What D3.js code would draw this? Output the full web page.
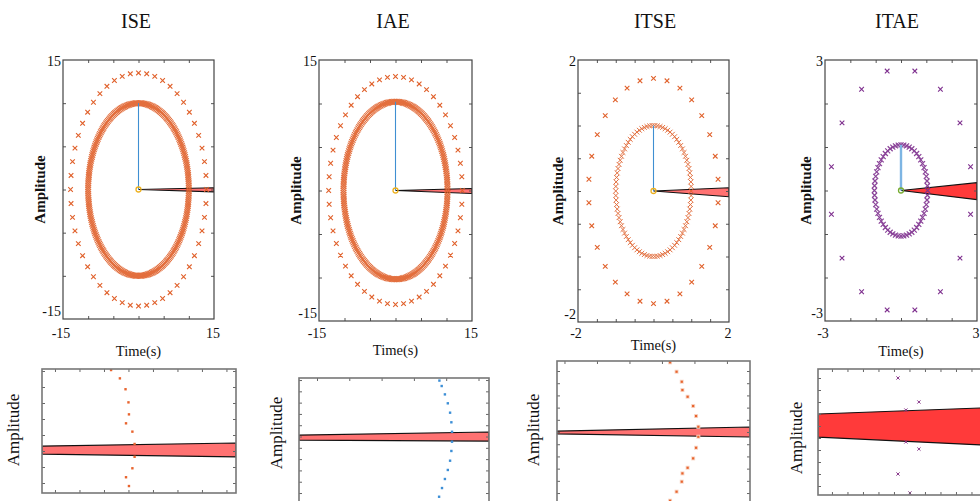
<!DOCTYPE html>
<html><head><meta charset="utf-8">
<script src="https://cdn.jsdelivr.net/npm/d3@7/dist/d3.min.js"></script>
<style>
body{margin:0;background:#fff}
svg{display:block}
text{font-family:"Liberation Serif","Times New Roman",serif;fill:#111}
</style>
</head><body>
<svg id="c" width="980" height="501"></svg>
<script>
// ---------- data: top panels ----------
const titles = ["ISE", "IAE", "ITSE", "ITAE"];
const axisLimit = [15, 15, 2, 3];
const tickStep = [5, 5, 0.5, 1];
const innerRadius = [10, 10.2, 1.0, 1.05];
const innerCount = [260, 260, 90, 60];
const outerRadius = [13.5, 13.1, 1.72, 2.8];
const outerCount = [52, 52, 30, 16];
const outerOffsetDeg = [0, 0, 6, 11.25];
const wedgeUpper = [0.2, 0.23, 0.05, 0.18];
const wedgeLower = [-0.27, -0.34, -0.087, -0.21];
const xLabel = "Time(s)";
const yLabel = "Amplitude";

// ---------- data: zoomed insets ----------
const inset1X = [2.29, 2.65, 2.88, 3.0, 3.02, 2.90, 3.16, 3.25, 3.25, 3.16, 2.90, 3.02];
const inset1Y = [7.06, 6.54, 5.86, 5.04, 4.29, 3.73, 3.21, 2.44, 1.64, 0.92, 0.36, -0.19];
const inset2X = [3.79, 3.86, 3.96, 4.05, 4.12, 4.16, 4.18, 4.18, 4.16, 4.12, 4.05, 3.96, 3.87, 3.78];
const inset2Y = [9.95, 9.47, 8.73, 7.94, 7.11, 6.26, 5.42, 4.54, 3.72, 2.86, 2.04, 1.24, 0.44, -0.33];
const inset3X = [2.25, 2.45, 2.61, 2.63, 2.79, 2.96, 3.05, 3.12, 3.12, 3.05, 2.96, 2.79, 2.63, 2.61, 2.45, 2.25];
const inset3Y = [10.71, 9.94, 9.12, 8.44, 7.89, 7.13, 6.31, 5.43, 4.61, 3.71, 2.84, 2.07, 1.61, 0.93, 0.11, -0.63];
const inset4X = [4.26, 5.61, 4.77, 4.77, 5.61, 4.26, 5.03];
const inset4Y = [9.0, 7.0, 6.33, 3.67, 3.08, 1.0, -0.58];
// band edges: [left upper, left lower, right upper, right lower]
const insetBand = [
  [2.31, 1.81, 2.5, 1.63],
  [5.13, 4.69, 5.4, 4.6],
  [5.08, 4.84, 5.41, 4.59],
  [6.0, 4.08, 6.56, 3.34]
];
const insetXDomain = [[-0.53, 7.39], [-0.557, 5.325], [-1.23, 4.71], [-0.9, 10.84]];
const insetYDomain = [[-0.625, 7.125], [-1.68, 10.18], [-1.8, 10.82], [-0.75, 9.75]];

// ---------- layout & style ----------
const svg = d3.select("#c");
svg.append("rect").attr("width", 980).attr("height", 501).attr("fill", "#fff");
const defs = svg.append("defs");

const layout = [
  {x: 63, y: 60, w: 151, h: 259},
  {x: 319, y: 60, w: 153, h: 261},
  {x: 578, y: 60, w: 151, h: 262},
  {x: 825, y: 60, w: 152, h: 261}
];
const titleX = [136, 393, 655, 897];
const timeY = [353, 352, 347, 353];
const ringColor = ["#e0602a", "#e0602a", "#e0602a", "#7e2f8e"];
const centerColor = ["#edb120", "#edb120", "#edb120", "#77ac30"];
const lineColor = ["#3f8fd2", "#3f8fd2", "#3f8fd2", "#7db5e3"];
const lineWidth = [1.1, 1.1, 1.1, 2.4];
const wedgeFill = ["#ff7272", "#ff7272", "#ff7272", "#ff3a3a"];
const innerSize = [2.8, 2.8, 2.4, 2.5];
const innerStroke = [1.1, 1.1, 1, 1.2];

function xMark(sel, cx, cy, s) {
  return sel.append("path")
    .attr("d", `M${cx - s},${cy - s}L${cx + s},${cy + s}M${cx - s},${cy + s}L${cx + s},${cy - s}`);
}

titles.forEach((t, i) => {
  const L = layout[i], lim = axisLimit[i];
  const x = d3.scaleLinear().domain([-lim, lim]).range([L.x, L.x + L.w]);
  const y = d3.scaleLinear().domain([-lim, lim]).range([L.y + L.h, L.y]);
  const g = svg.append("g");

  defs.append("clipPath").attr("id", "clip" + i)
    .append("rect").attr("x", L.x).attr("y", L.y).attr("width", L.w).attr("height", L.h);
  const plot = g.append("g").attr("clip-path", `url(#clip${i})`);

  // wedge
  const wedge = [[0, 0], [lim, wedgeUpper[i]], [lim, wedgeLower[i]]];
  plot.append("path")
    .attr("d", d3.line().x(d => x(d[0])).y(d => y(d[1]))(wedge) + "Z")
    .attr("fill", wedgeFill[i]).attr("stroke", "#111").attr("stroke-width", 1.1)
    .attr("stroke-linejoin", "miter");

  // outer ring markers
  const outer = d3.range(outerCount[i]).map(k => {
    const a = (outerOffsetDeg[i] + k * 360 / outerCount[i]) * Math.PI / 180;
    return [outerRadius[i] * Math.cos(a), outerRadius[i] * Math.sin(a)];
  });
  const og = plot.append("g").attr("stroke", ringColor[i]).attr("stroke-width", 1.1).attr("fill", "none");
  outer.forEach(p => xMark(og, x(p[0]), y(p[1]), 2.3));

  // inner ring markers
  const inner = d3.range(innerCount[i]).map(k => {
    const a = (k * 360 / innerCount[i]) * Math.PI / 180;
    return [innerRadius[i] * Math.cos(a), innerRadius[i] * Math.sin(a)];
  });
  const ig = plot.append("g").attr("stroke", ringColor[i]).attr("stroke-width", innerStroke[i])
    .attr("fill", "none").attr("opacity", 0.9);
  inner.forEach(p => xMark(ig, x(p[0]), y(p[1]), innerSize[i]));

  // vertical line
  plot.append("line").attr("x1", x(0)).attr("x2", x(0)).attr("y1", y(0)).attr("y2", y(innerRadius[i]))
    .attr("stroke", lineColor[i]).attr("stroke-width", lineWidth[i]);
  // center marker
  plot.append("circle").attr("cx", x(0)).attr("cy", y(0)).attr("r", 2.5)
    .attr("fill", "none").attr("stroke", centerColor[i]).attr("stroke-width", 1.3);

  // ticks inside on all four sides
  const tv = d3.range(-lim + tickStep[i], lim - 1e-9, tickStep[i]);
  const axStyle = a => a.select(".domain").remove();
  g.append("g").attr("transform", `translate(0,${L.y + L.h})`)
    .call(d3.axisBottom(x).tickValues(tv).tickSize(-3).tickFormat("")).call(axStyle);
  g.append("g").attr("transform", `translate(0,${L.y})`)
    .call(d3.axisTop(x).tickValues(tv).tickSize(-3).tickFormat("")).call(axStyle);
  g.append("g").attr("transform", `translate(${L.x},0)`)
    .call(d3.axisLeft(y).tickValues(tv).tickSize(-3).tickFormat("")).call(axStyle);
  g.append("g").attr("transform", `translate(${L.x + L.w},0)`)
    .call(d3.axisRight(y).tickValues(tv).tickSize(-3).tickFormat("")).call(axStyle);
  g.selectAll(".tick line").attr("stroke", "#555");

  // frame
  g.append("rect").attr("x", L.x).attr("y", L.y).attr("width", L.w).attr("height", L.h)
    .attr("fill", "none").attr("stroke", "#444").attr("stroke-width", 1.2);

  // tick labels
  const fmt = v => (v < 0 ? "-" : "") + Math.abs(v);
  g.append("text").attr("x", L.x - 2).attr("y", L.y + 3).attr("text-anchor", "end")
    .attr("dominant-baseline", "middle").attr("font-size", 14).text(fmt(lim));
  g.append("text").attr("x", L.x - 2).attr("y", L.y + L.h - 6).attr("text-anchor", "end")
    .attr("dominant-baseline", "middle").attr("font-size", 14).text(fmt(-lim));
  g.append("text").attr("x", x(-lim) - 2).attr("y", 335).attr("text-anchor", "middle")
    .attr("dominant-baseline", "middle").attr("font-size", 14).text(fmt(-lim));
  g.append("text").attr("x", x(lim) - 1).attr("y", 335).attr("text-anchor", "middle")
    .attr("dominant-baseline", "middle").attr("font-size", 14).text(fmt(lim));

  // axis titles
  g.append("text").attr("x", titleX[i]).attr("y", 23).attr("text-anchor", "middle")
    .attr("dominant-baseline", "middle").attr("font-size", 20).text(t);
  g.append("text").attr("x", x(0)).attr("y", timeY[i]).attr("text-anchor", "middle")
    .attr("dominant-baseline", "middle").attr("font-size", 14.5).text(xLabel);
  const yl = [42, 298, 560, 808][i];
  g.append("text").attr("transform", `translate(${yl},${L.y + L.h / 2}) rotate(-90)`)
    .attr("text-anchor", "middle").attr("dominant-baseline", "middle")
    .attr("font-size", 15).attr("font-weight", "bold").text(yLabel);
});

// ---------- insets ----------
const insetRect = [
  {x: 42, y: 369, w: 194, h: 124},
  {x: 299, y: 378, w: 190, h: 134},
  {x: 557, y: 361, w: 193, h: 154},
  {x: 818, y: 369, w: 182, h: 126}
];
const insetLabelX = [15, 278, 535, 798];
const insetDotColor = ["#e8642e", "#3d8fd6", "#e8642e", "#8a3a8c"];
const insetXs = [inset1X, inset2X, inset3X, inset4X];
const insetYs = [inset1Y, inset2Y, inset3Y, inset4Y];

insetRect.forEach((R, i) => {
  const x = d3.scaleLinear().domain(insetXDomain[i]).range([R.x, R.x + R.w]);
  const y = d3.scaleLinear().domain(insetYDomain[i]).range([R.y + R.h, R.y]);
  const g = svg.append("g");
  g.append("rect").attr("x", R.x).attr("y", R.y).attr("width", R.w).attr("height", R.h).attr("fill", "#fff");
  defs.append("clipPath").attr("id", "iclip" + i)
    .append("rect").attr("x", R.x).attr("y", R.y).attr("width", R.w).attr("height", R.h);
  const plot = g.append("g").attr("clip-path", `url(#iclip${i})`);

  const b = insetBand[i], xd = insetXDomain[i];
  const band = [[xd[0], b[0]], [xd[1], b[2]], [xd[1], b[3]], [xd[0], b[1]]];
  plot.append("path")
    .attr("d", d3.line().x(d => x(d[0])).y(d => y(d[1]))(band) + "Z")
    .attr("fill", wedgeFill[i]).attr("stroke", "#111").attr("stroke-width", 1.2);

  const xs = insetXs[i], ys = insetYs[i];
  xs.forEach((v, k) => {
    if (i === 3) {
      plot.append("g").attr("stroke", insetDotColor[i]).attr("stroke-width", 1)
        .call(s => xMark(s, x(v), y(ys[k]), 1.6));
    } else {
      if (i === 2) {
        plot.append("rect").attr("x", x(v) - 2).attr("y", y(ys[k]) - 2).attr("width", 4).attr("height", 4)
          .attr("fill", "#f8d6c6");
      }
      const s = i === 2 ? 2.2 : 2.4;
      plot.append("rect").attr("x", x(v) - s / 2).attr("y", y(ys[k]) - s / 2).attr("width", s).attr("height", s)
        .attr("fill", insetDotColor[i]);
    }
  });

  const xt = d3.range(Math.ceil(xd[0]), Math.floor(xd[1]) + 1);
  const yd = insetYDomain[i];
  const yt = d3.range(Math.ceil(yd[0]), Math.floor(yd[1]) + 1);
  const axStyle = a => a.select(".domain").remove();
  g.append("g").attr("transform", `translate(0,${R.y + R.h})`)
    .call(d3.axisBottom(x).tickValues(xt).tickSize(-3).tickFormat("")).call(axStyle);
  g.append("g").attr("transform", `translate(0,${R.y})`)
    .call(d3.axisTop(x).tickValues(xt).tickSize(-3).tickFormat("")).call(axStyle);
  g.append("g").attr("transform", `translate(${R.x},0)`)
    .call(d3.axisLeft(y).tickValues(yt).tickSize(-3).tickFormat("")).call(axStyle);
  g.append("g").attr("transform", `translate(${R.x + R.w},0)`)
    .call(d3.axisRight(y).tickValues(yt).tickSize(-3).tickFormat("")).call(axStyle);
  g.selectAll(".tick line").attr("stroke", "#666");
  g.append("rect").attr("x", R.x).attr("y", R.y).attr("width", R.w).attr("height", R.h)
    .attr("fill", "none").attr("stroke", "#777").attr("stroke-width", 1.6);

  g.append("text").attr("transform", `translate(${insetLabelX[i]},${[430, 433, 430, 438][i]}) rotate(-90)`)
    .attr("text-anchor", "middle").attr("dominant-baseline", "middle")
    .attr("font-size", 17).text(yLabel);
});
</script>
</body></html>
